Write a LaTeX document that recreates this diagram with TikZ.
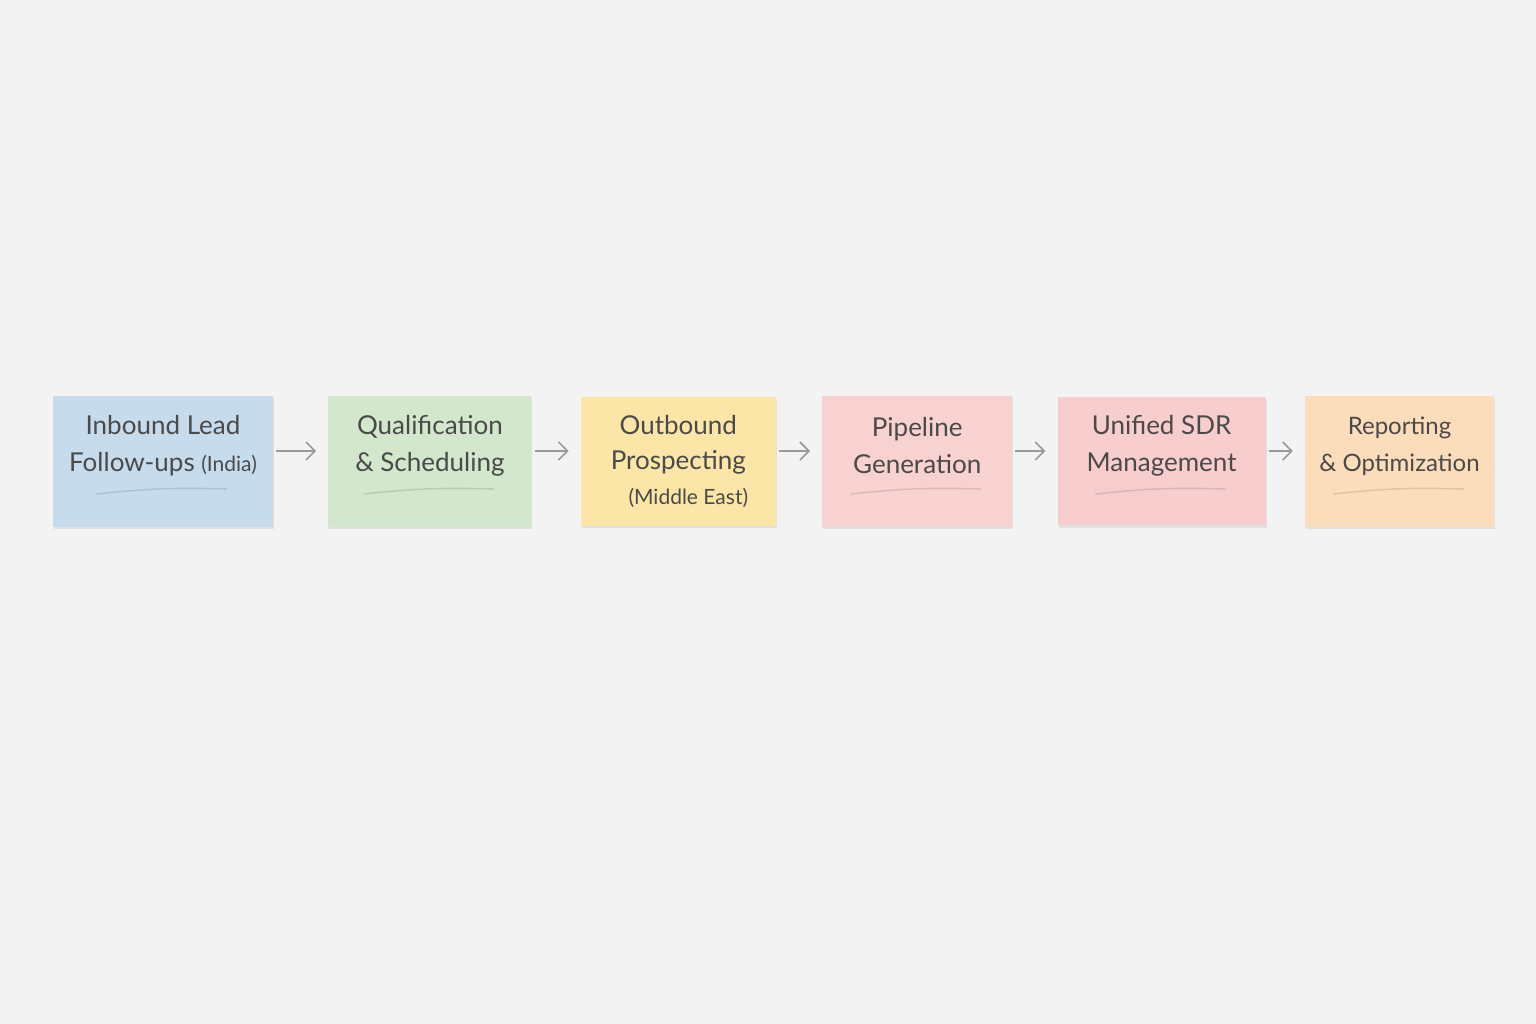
\documentclass[tikz,border=0pt]{standalone}
\usepackage{fontspec}
\setmainfont{Lato}
\usepackage{xcolor}
\usetikzlibrary{arrows,arrows.meta,positioning,shadows}

\definecolor{paper}{HTML}{F3F3F3}
\definecolor{ink}{HTML}{4A4A4A}
\definecolor{noteblue}{HTML}{C6DBEC}
\definecolor{notegreen}{HTML}{D2E7CB}
\definecolor{noteyellow}{HTML}{FBE6A8}
\definecolor{notepink}{HTML}{F8D2D0}
\definecolor{noterose}{HTML}{F8CDCD}
\definecolor{noteorange}{HTML}{FCDDBB}
\definecolor{arrowgray}{HTML}{9A9A9A}

\begin{document}
\begin{tikzpicture}[x=1pt,y=-1pt,>=stealth',node distance=50pt,
    note/.style={rectangle, minimum height=131pt, inner sep=0pt,
      drop shadow={opacity=0.16, shadow xshift=1pt, shadow yshift=-2.5pt}},
    notetext/.style={align=center, text=ink, yshift=15pt,
      font=\fontsize{26}{37}\selectfont},
    flow/.style={draw=arrowgray, line width=1.6pt, shorten <=3pt, shorten >=12pt,
      -{Straight Barb[length=9pt,width=18pt,line width=1.6pt]}},
    scribble/.style={draw=black, draw opacity=0.12, line width=1.4pt, line cap=round}]
        \fill[paper] (0,0) rectangle (1536,1024);
        \node[note, fill=noteblue, minimum width=220pt] (lead) at (163,461)
            [label={[notetext]center:{Inbound Lead\\Follow-ups {\fontsize{21}{21}\selectfont(India)}}}] {};
        \node[note, fill=notegreen, minimum width=203pt] (qual) [right=55pt of lead]
            [label={[notetext]center:{Qualification\\\& Scheduling}}] {};
        \node[note, fill=noteyellow, minimum width=195pt, minimum height=129pt] (outb) [right=49pt of qual]
            [label={[notetext, yshift=-15pt, font=\fontsize{26}{35}\selectfont]center:{Outbound\\Prospecting\\\hspace*{20pt}{\fontsize{21}{21}\selectfont(Middle East)}}}] {};
        \node[note, fill=notepink, minimum width=190pt] (pipe) [right=46pt of outb]
            [label={[notetext]center:{Pipeline\\Generation}}] {};
        \node[note, fill=noterose, minimum width=208pt, minimum height=128pt] (sdr) [right=45pt of pipe]
            [label={[notetext]center:{Unified SDR\\Management}}] {};
        \node[note, fill=noteorange, minimum width=189pt] (rep) [right=39pt of sdr]
            [label={[notetext, font=\fontsize{24}{37}\selectfont]center:{Reporting\\\& Optimization}}] {};
        % scribbled underlines
        \foreach \n in {lead,qual,pipe,sdr,rep}
            \draw[scribble] ([xshift=-66pt,yshift=-33pt]\n.center) to[bend left=4] ([xshift=64pt,yshift=-28pt]\n.center);
        % flow between the notes
        \foreach \a/\b in {lead/qual,qual/outb,outb/pipe,pipe/sdr,sdr/rep}
            \draw[flow] ([yshift=10pt]\a.east) -- ([yshift=10pt]\b.west);
\end{tikzpicture}
\end{document}
